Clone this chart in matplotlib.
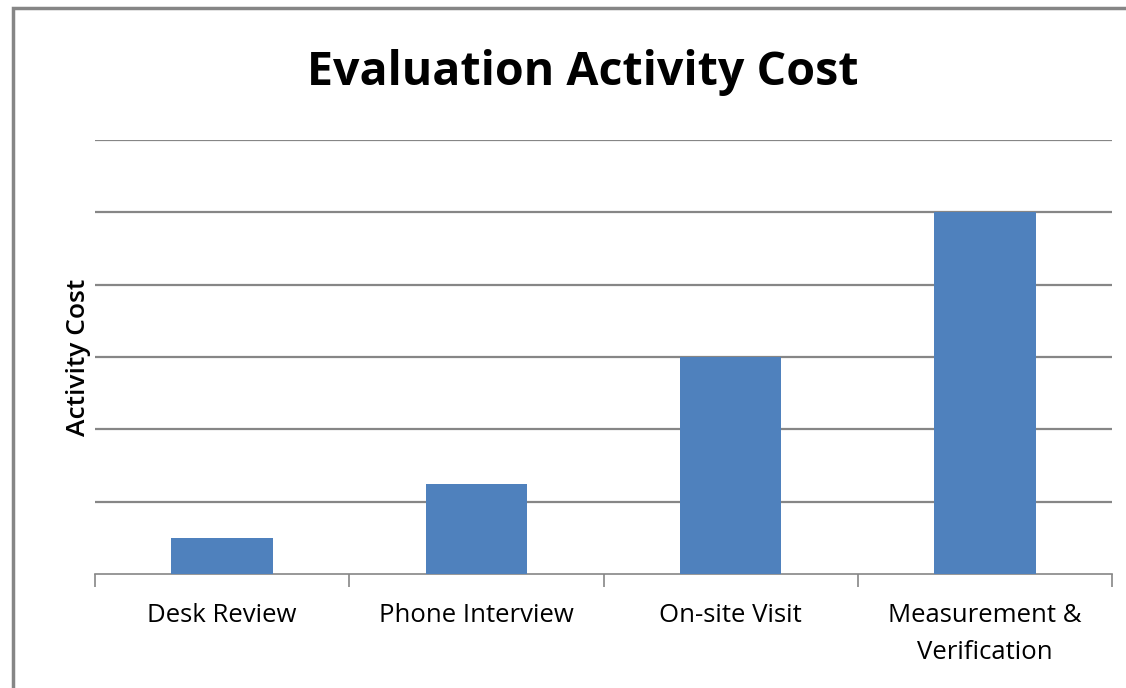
import matplotlib.pyplot as plt
from matplotlib.patches import Rectangle

# Chart data
categories = ["Desk Review", "Phone Interview", "On-site Visit", "Measurement &\nVerification"]
costs = [0.5, 1.25, 3.0, 5.0]
grid_levels = [1, 2, 3, 4, 5, 6]

bar_color = "#4F81BD"
line_gray = "#868686"

fig = plt.figure(figsize=(11.26, 6.88), dpi=100)
W, H = 1126, 688

# outer chart border (runs off the right and bottom edges)
fig.patches.append(Rectangle((13 / W, -0.05), 1.2, 1 - 8 / H + 0.05,
                             transform=fig.transFigure, fill=False,
                             edgecolor=line_gray, linewidth=2.5))

ax = fig.add_axes([95 / W, 1 - 574 / H, (1112 - 95) / W, (574 - 140) / H])

x = range(len(categories))
ax.bar(x, costs, width=0.4, color=bar_color, zorder=3)

ax.set_xlim(-0.5, len(categories) - 0.5)
ax.set_ylim(0, 6)

# horizontal gridlines
for g in grid_levels:
    ax.axhline(g, color=line_gray, linewidth=1.6, zorder=1)

for s in ["top", "right", "left"]:
    ax.spines[s].set_visible(False)
ax.spines["bottom"].set_color(line_gray)
ax.spines["bottom"].set_linewidth(1.2)

ax.set_yticks([])
# tick marks at category boundaries, labels centred under bars
ax.set_xticks([i - 0.5 for i in range(len(categories) + 1)], minor=False)
ax.set_xticklabels([])
ax.tick_params(axis="x", which="major", length=9, width=1.2, color=line_gray, direction="out")
ax.set_xticks(list(x), minor=True)
ax.set_xticklabels(categories, minor=True, fontsize=18.5, family="Open Sans", linespacing=1.6)
ax.tick_params(axis="x", which="minor", length=0, pad=21)

ax.set_ylabel("Activity Cost", fontsize=19, fontweight="semibold", family="Open Sans", labelpad=3)

fig.text(583 / W, 1 - 72 / H, "Evaluation Activity Cost", ha="center", va="center",
         fontsize=33.5, fontweight="bold", family="Open Sans")

fig.savefig("out.png", dpi=100)
